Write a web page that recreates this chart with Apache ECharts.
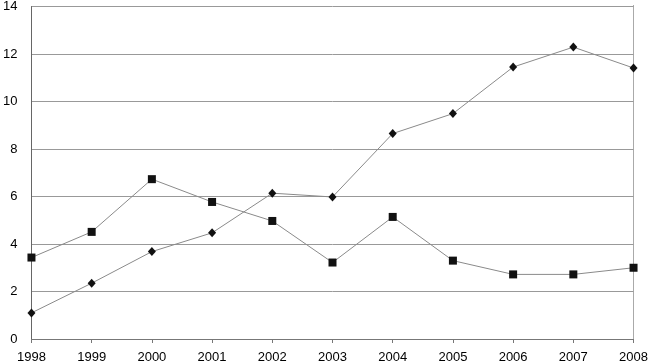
<!DOCTYPE html>
<html>
<head>
<meta charset="utf-8">
<style>
  html, body { margin: 0; padding: 0; background: #fff; }
  #chart { width: 651px; height: 364px; }
</style>
<script src="https://cdn.jsdelivr.net/npm/echarts@6/dist/echarts.min.js"></script>
</head>
<body>
<div id="chart"></div>
<script>
const years = ['1998', '1999', '2000', '2001', '2002', '2003', '2004', '2005', '2006', '2007', '2008']
const diamondSeries = [1.1, 2.35, 3.68, 4.47, 6.14, 5.98, 8.65, 9.49, 11.45, 12.29, 11.41]
const squareSeries = [3.43, 4.51, 6.73, 5.77, 4.97, 3.22, 5.14, 3.3, 2.72, 2.72, 3.0]

const chart = echarts.init(document.getElementById('chart'))
const lineColor = '#8a8a8a'
const markColor = '#111'

chart.setOption({
  animation: false,
  textStyle: { fontFamily: 'Liberation Sans, Arial, sans-serif' },
  grid: { left: 30, right: 17, top: 5, bottom: 24, containLabel: false },
  xAxis: {
    type: 'category',
    data: years,
    boundaryGap: false,
    axisLine: { lineStyle: { color: '#777' } },
    axisTick: { show: true, length: 4, lineStyle: { color: '#777' } },
    axisLabel: { color: '#000', fontSize: 13, margin: 12 },
    splitLine: { show: false }
  },
  yAxis: {
    type: 'value',
    min: 0,
    max: 14,
    interval: 2,
    axisLine: { show: true, lineStyle: { color: '#666' } },
    axisTick: { show: false },
    axisLabel: { color: '#000', fontSize: 13, margin: 14 },
    splitLine: { lineStyle: { color: '#999', width: 1 } }
  },
  series: [
    {
      type: 'line',
      data: diamondSeries,
      symbol: 'diamond',
      symbolSize: [8, 9],
      itemStyle: { color: markColor },
      lineStyle: { color: lineColor, width: 1 }
    },
    {
      type: 'line',
      data: squareSeries,
      symbol: 'rect',
      symbolSize: 8,
      itemStyle: { color: markColor },
      lineStyle: { color: lineColor, width: 1 }
    }
  ],
  graphic: [
    {
      type: 'line',
      shape: { x1: 633.5, y1: 5, x2: 633.5, y2: 340 },
      style: { stroke: '#aaa', lineWidth: 1 }
    }
  ]
})
</script>
</body>
</html>
